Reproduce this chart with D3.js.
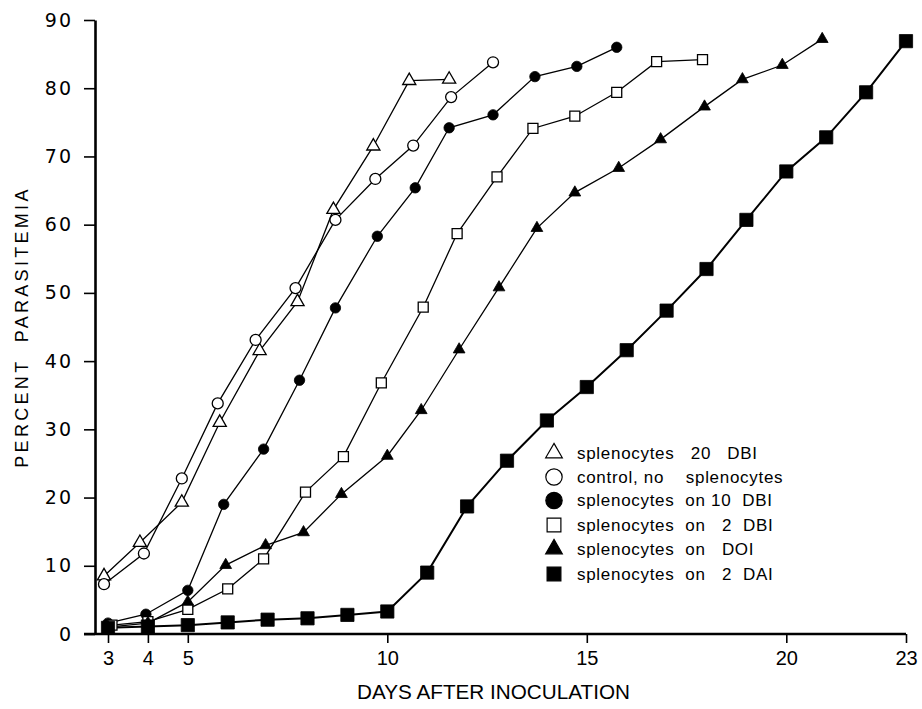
<!DOCTYPE html>
<html><head><meta charset="utf-8">
<script src="https://cdn.jsdelivr.net/npm/d3@7/dist/d3.min.js"></script>
<style>body{margin:0;background:#fff}svg{display:block;background:#fff}text{white-space:pre}</style>
</head><body><svg id="c" width="922" height="709"></svg>
<script>
// ---- data ----
const xTicks = [3, 4, 5, 10, 15, 20, 23];
const yTicks = [0, 10, 20, 30, 40, 50, 60, 70, 80, 90];

const triOpenDays = [2.9, 3.8, 4.85, 5.8, 6.8, 7.75, 8.65, 9.65, 10.55, 11.55];
const triOpenVals = [8.5, 13.4, 19.3, 31, 41.5, 48.7, 62.2, 71.5, 81.1, 81.3];

const circOpenDays = [2.9, 3.9, 4.85, 5.75, 6.7, 7.7, 8.7, 9.7, 10.65, 11.6, 12.65];
const circOpenVals = [7.3, 11.8, 22.8, 33.8, 43.1, 50.7, 60.7, 66.7, 71.6, 78.7, 83.8];

const circFillDays = [3, 3.95, 5, 5.9, 6.9, 7.8, 8.7, 9.75, 10.7, 11.55, 12.65, 13.7, 14.75, 15.75];
const circFillVals = [1.6, 2.9, 6.4, 19, 27.1, 37.2, 47.8, 58.3, 65.4, 74.2, 76.1, 81.7, 83.2, 86];

const sqOpenDays = [3.1, 4, 5, 6, 6.9, 7.95, 8.9, 9.85, 10.9, 11.75, 12.75, 13.65, 14.7, 15.75, 16.75, 17.9];
const sqOpenVals = [1.3, 1.8, 3.6, 6.6, 11, 20.8, 26, 36.8, 47.9, 58.7, 67, 74.1, 75.9, 79.4, 83.9, 84.2];

const triFillDays = [3, 4, 5, 5.95, 6.95, 7.9, 8.85, 10, 10.85, 11.8, 12.8, 13.75, 14.7, 15.8, 16.85, 17.95, 18.9, 19.9, 20.9];
const triFillVals = [1.0, 1.6, 4.7, 10.1, 13, 14.9, 20.5, 26.1, 32.8, 41.7, 50.8, 59.5, 64.7, 68.3, 72.5, 77.3, 81.3, 83.4, 87.2];

const sqFillDays = [3, 4, 5, 6, 7, 8, 9, 10, 11, 12, 13, 14, 15, 16, 17, 18, 19, 20, 21, 22, 23];
const sqFillVals = [0.9, 1.1, 1.3, 1.7, 2.1, 2.3, 2.8, 3.3, 9, 18.7, 25.4, 31.3, 36.2, 41.6, 47.4, 53.5, 60.7, 67.8, 72.8, 79.4, 86.9];

const legendLabels = [
  "splenocytes   20   DBI",
  "control, no    splenocytes",
  "splenocytes  on 10  DBI",
  "splenocytes  on   2  DBI",
  "splenocytes  on   DOI",
  "splenocytes  on   2  DAI"
];

// ---- drawing ----
const svg = d3.select("#c");
svg.append("rect").attr("width", 922).attr("height", 709).attr("fill", "#fff");

const x = d3.scaleLinear().domain([3, 23]).range([108, 906]);
const y = d3.scaleLinear().domain([0, 90]).range([634, 20]);

const series = [
  {days: triOpenDays, vals: triOpenVals, type: d3.symbolTriangle, size: 75, filled: false, lw: 1.3},
  {days: circOpenDays, vals: circOpenVals, type: d3.symbolCircle, size: 95, filled: false, lw: 1.3},
  {days: circFillDays, vals: circFillVals, type: d3.symbolCircle, size: 85, filled: true, lw: 1.3},
  {days: sqOpenDays, vals: sqOpenVals, type: d3.symbolSquare, size: 100, filled: false, lw: 1.3},
  {days: triFillDays, vals: triFillVals, type: d3.symbolTriangle, size: 60, filled: true, lw: 1.3},
  {days: sqFillDays, vals: sqFillVals, type: d3.symbolSquare, size: 175, filled: true, lw: 2}
];

// axes
const yAxis = d3.axisLeft(y).tickValues(yTicks).tickSize(11).tickPadding(11).tickSizeOuter(0);
const gy = svg.append("g").attr("transform", "translate(95,0)").call(yAxis);
gy.select(".domain").attr("stroke", "#000").attr("stroke-width", 2.6);
gy.selectAll(".tick line").attr("stroke", "#000").attr("stroke-width", 1.6);
gy.selectAll(".tick text").attr("font-family", "DejaVu Sans, sans-serif").attr("font-size", 19)
  .attr("letter-spacing", 2).attr("fill", "#000");

const xAxis = d3.axisBottom(x).tickValues(xTicks).tickSize(9).tickPadding(8).tickSizeOuter(0);
const gx = svg.append("g").attr("transform", "translate(0,634)").call(xAxis);
gx.select(".domain").attr("d", "M84,0H906").attr("stroke", "#000").attr("stroke-width", 2.4);
gx.selectAll(".tick line").attr("stroke", "#000").attr("stroke-width", 1.6);
gx.selectAll(".tick text").attr("font-family", "Liberation Sans, Arial, sans-serif").attr("font-size", 20)
  .attr("fill", "#000");

// axis titles
svg.append("text").attr("transform", "translate(28,327) rotate(-90)")
  .attr("text-anchor", "middle").attr("font-family", "Liberation Sans, Arial, sans-serif")
  .attr("font-size", 18).attr("letter-spacing", 3.3).attr("fill", "#000")
  .text("PERCENT  PARASITEMIA");

svg.append("text").attr("x", 357).attr("y", 699)
  .attr("font-family", "Liberation Sans, Arial, sans-serif")
  .attr("font-size", 21).attr("fill", "#000")
  .attr("textLength", 273).attr("lengthAdjust", "spacingAndGlyphs")
  .text("DAYS AFTER INOCULATION");

// lines
const line = d3.line().x(d => x(d[0])).y(d => y(d[1]));
series.forEach(s => {
  const pts = s.days.map((d, i) => [d, s.vals[i]]);
  svg.append("path").datum(pts).attr("d", line).attr("fill", "none")
    .attr("stroke", "#000").attr("stroke-width", s.lw);
});
// markers
series.forEach(s => {
  const pts = s.days.map((d, i) => [d, s.vals[i]]);
  svg.append("g").selectAll("path").data(pts).join("path")
    .attr("transform", d => `translate(${x(d[0])},${y(d[1])})`)
    .attr("d", d3.symbol().type(s.type).size(s.size))
    .attr("fill", s.filled ? "#000" : "#fff")
    .attr("stroke", "#000").attr("stroke-width", s.filled ? 0.8 : 1.3);
});

// legend
const legSizes = [120, 210, 210, 190, 120, 190];
const legRowY = [453, 477, 500.5, 525, 549, 574];
const leg = svg.append("g");
legendLabels.forEach((lab, i) => {
  const s = series[i];
  const cy = legRowY[i];
  leg.append("path").attr("transform", `translate(554,${cy})`)
    .attr("d", d3.symbol().type(s.type).size(legSizes[i]))
    .attr("fill", s.filled ? "#000" : "#fff").attr("stroke", "#000").attr("stroke-width", 1.2);
  leg.append("text").attr("x", 577).attr("y", cy + 5.5)
    .attr("font-family", "Liberation Sans, Arial, sans-serif").attr("font-size", 17)
    .attr("letter-spacing", 0.7).attr("fill", "#000").text(lab);
});
</script></body></html>
